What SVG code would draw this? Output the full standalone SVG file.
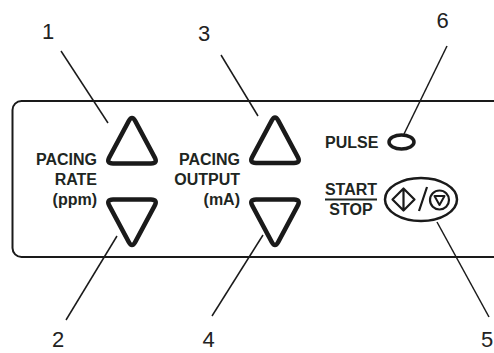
<svg xmlns="http://www.w3.org/2000/svg" width="494" height="353" viewBox="0 0 494 353">
<style>
.lbl{font-family:"Liberation Sans",Arial,sans-serif;font-weight:bold;font-size:16px;fill:#1e2622}
.num{font-family:"Liberation Sans",Arial,sans-serif;font-size:22px;fill:#222}
.btn{fill:none;stroke:#1a1a1a;stroke-width:4.5;stroke-linejoin:round}
.ln{stroke:#1a1a1a;stroke-width:1.5;fill:none}
</style>
<rect width="494" height="353" fill="#fff"/>
<g id="panel"><rect x="12.5" y="101" width="500" height="156" rx="9" fill="none" stroke="#1a1a1a" stroke-width="2"/></g>
<g id="rate-label"><text class="lbl" text-anchor="end" x="97" y="165">PACING</text><text class="lbl" text-anchor="end" x="97" y="185">RATE</text><text class="lbl" text-anchor="end" x="97" y="205">(ppm)</text></g>
<g id="output-label"><text class="lbl" text-anchor="end" x="240" y="165">PACING</text><text class="lbl" text-anchor="end" x="240" y="185">OUTPUT</text><text class="lbl" text-anchor="end" x="240" y="205">(mA)</text></g>
<g id="rate-up"><path class="btn" d="M128.7,121.17 Q132,115 135.3,121.17 L154.7,157.33 Q158,163.5 151,163.5 L113,163.5 Q106,163.5 109.3,157.33 Z"/></g>
<g id="rate-down"><path class="btn" d="M113,199.5 L151,199.5 Q158,199.5 154.7,205.67 L135.3,241.83 Q132,248 128.7,241.83 L109.3,205.67 Q106,199.5 113,199.5 Z"/></g>
<g id="output-up"><path class="btn" d="M271.7,120.67 Q275,114.5 278.3,120.67 L297.7,156.83 Q301,163 294,163 L256,163 Q249,163 252.3,156.83 Z"/></g>
<g id="output-down"><path class="btn" d="M256,199.5 L294,199.5 Q301,199.5 297.7,205.67 L278.3,241.83 Q275,248 271.7,241.83 L252.3,205.67 Q249,199.5 256,199.5 Z"/></g>
<g id="pulse"><text class="lbl" x="325" y="148">PULSE</text><ellipse cx="401.5" cy="142" rx="12.5" ry="7" fill="none" stroke="#1a1a1a" stroke-width="3.5"/></g>
<g id="startstop"><text class="lbl" text-anchor="middle" x="351" y="195">START</text><line x1="325" y1="199.5" x2="377" y2="199.5" stroke="#1e2622" stroke-width="2"/><text class="lbl" text-anchor="middle" x="351" y="215">STOP</text>
<ellipse cx="421" cy="199.5" rx="36" ry="21.5" fill="none" stroke="#1a1a1a" stroke-width="2.5"/>
<path d="M403.5,188.5 L414.5,199.5 L403.5,210.5 L392.5,199.5 Z M403.5,188.5 V210.5" fill="none" stroke="#1a1a1a" stroke-width="2.2" stroke-linejoin="round"/>
<line x1="427" y1="187" x2="419" y2="211" stroke="#1a1a1a" stroke-width="2.2"/>
<circle cx="439.5" cy="200" r="9.5" fill="none" stroke="#1a1a1a" stroke-width="2.2"/>
<path d="M434.5,196 L444.5,196 L439.5,205 Z" fill="none" stroke="#1a1a1a" stroke-width="2" stroke-linejoin="round"/></g>
<g id="connectors">
<line class="ln" x1="61" y1="51" x2="108" y2="123"/>
<line class="ln" x1="66" y1="320" x2="117" y2="236"/>
<line class="ln" x1="221" y1="55" x2="258" y2="116"/>
<line class="ln" x1="212" y1="316" x2="263" y2="235"/>
<line class="ln" x1="437" y1="222" x2="489" y2="317"/>
<line class="ln" x1="447" y1="46" x2="404" y2="134"/>
</g>
<g id="numbers">
<text class="num" text-anchor="middle" x="48" y="39">1</text>
<text class="num" text-anchor="middle" x="58" y="347">2</text>
<text class="num" text-anchor="middle" x="204" y="41">3</text>
<text class="num" text-anchor="middle" x="208.5" y="347">4</text>
<text class="num" x="481" y="347">5</text>
<text class="num" text-anchor="middle" x="442.5" y="28">6</text>
</g>
</svg>
